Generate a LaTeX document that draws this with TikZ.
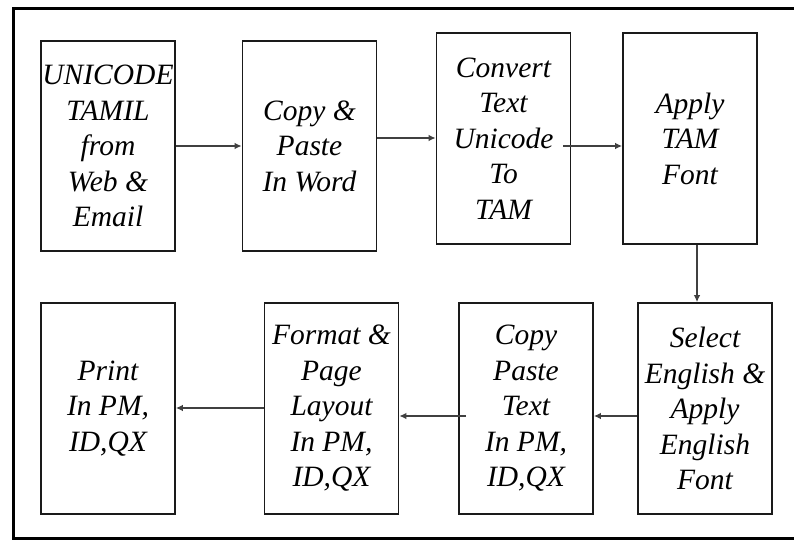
\documentclass[tikz,border=0pt]{standalone}
\usepackage{fontspec}
\setmainfont{Liberation Serif}
\usetikzlibrary{arrows.meta}
\definecolor{arrgray}{HTML}{404040}
\definecolor{boxline}{HTML}{1A1A1A}
\tikzset{
  box/.style={draw=boxline, line width=1.6pt, minimum width=134pt, minimum height=210pt,
    inner sep=0pt, align=center, font=\fontsize{29.5}{35.5}\selectfont\itshape},
  arr/.style={draw=arrgray, line width=1.7pt, -{Latex[length=7pt,width=6.5pt]}},
  frame/.style={draw=black, line width=3pt}
}
\begin{document}
\begin{tikzpicture}[x=1pt,y=-1pt]
\useasboundingbox (0,0) rectangle (794,540);
\fill[white] (0,0) rectangle (794,540);
\draw[frame] (796,9) -- (13,9) -- (13,538.5) -- (796,538.5);

\node[box] (b1) at (108,146) {UNICODE\\TAMIL\\from\\Web \&\\Email};
\node[box] (b2) at (309.5,146) {Copy \&\\Paste\\In Word};
\node[box, minimum height=211pt] (b3) at (503.5,138.5) {Convert\\Text\\Unicode\\To\\TAM};
\node[box, minimum height=211pt] (b4) at (690,138.5) {Apply\\TAM\\Font};
\node[box, minimum height=211pt] (b5) at (705,408.5) {Select\\English \&\\Apply\\English\\Font};
\node[box, minimum height=211pt] (b6) at (526,408.5) {Copy\\Paste\\Text\\In PM,\\ID,QX};
\node[box, minimum height=211pt] (b7) at (331.5,408.5) {Format \&\\Page\\Layout\\In PM,\\ID,QX};
\node[box, minimum height=211pt] (b8) at (108,408.5) {Print\\In PM,\\ID,QX};

\draw[arr] (b1.east) -- (b2.west);
\draw[arr] ([yshift=0.5pt]b2.east |- b3.west) -- ([yshift=0.5pt]b3.west);
\draw[arr] ([xshift=-8pt,yshift=-7.5pt]b3.east) -- ([yshift=-7.5pt]b4.west);
\draw[arr] ([xshift=7pt]b4.south) -- ([xshift=7pt]b4.south |- b5.north);
\draw[arr] ([yshift=-7.5pt]b5.west) -- ([yshift=-7.5pt]b6.east);
\draw[arr] ([xshift=8pt,yshift=-7.5pt]b6.west) -- ([yshift=-7.5pt]b7.east);
\draw[arr] ([yshift=0.5pt]b7.west) -- ([yshift=0.5pt]b8.east);
\end{tikzpicture}
\end{document}
